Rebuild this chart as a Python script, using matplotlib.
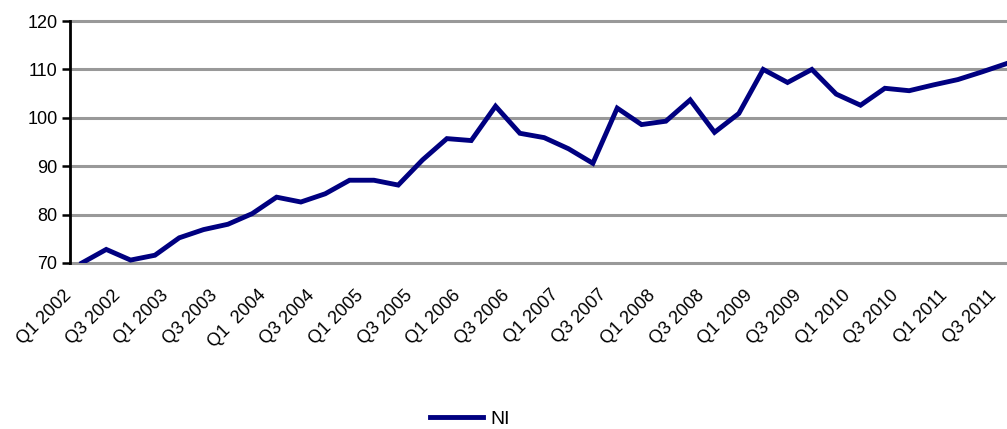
import numpy as np
import matplotlib.pyplot as plt
from matplotlib.transforms import ScaledTranslation

plt.rcParams['font.family'] = ['Liberation Sans', 'DejaVu Sans']

quarters = ['Q1 2002', 'Q2 2002', 'Q3 2002', 'Q4 2002',
            'Q1 2003', 'Q2 2003', 'Q3 2003', 'Q4 2003',
            'Q1  2004', 'Q2 2004', 'Q3 2004', 'Q4 2004',
            'Q1 2005', 'Q2 2005', 'Q3 2005', 'Q4 2005',
            'Q1 2006', 'Q2 2006', 'Q3 2006', 'Q4 2006',
            'Q1 2007', 'Q2 2007', 'Q3 2007', 'Q4 2007',
            'Q1 2008', 'Q2 2008', 'Q3 2008', 'Q4 2008',
            'Q1 2009', 'Q2 2009', 'Q3 2009', 'Q4 2009',
            'Q1 2010', 'Q2 2010', 'Q3 2010', 'Q4 2010',
            'Q1 2011', 'Q2 2011', 'Q3 2011']
ni = [70.0, 72.8, 70.6, 71.6, 75.2, 76.9, 78.0, 80.2,
      83.6, 82.6, 84.3, 87.1, 87.1, 86.1, 91.3, 95.7,
      95.3, 102.4, 96.8, 95.9, 93.6, 90.6, 102.0, 98.6,
      99.3, 103.7, 97.0, 100.9, 110.0, 107.3, 110.0, 104.9,
      102.6, 106.1, 105.6, 106.8, 107.9, 109.5, 111.2]

x = np.arange(len(ni))

fig = plt.figure(figsize=(10.07, 4.29), dpi=100)
ax = fig.add_axes([0.0695, 0.387, 0.9305, 0.564])

ax.plot(x, ni, color='#000080', linewidth=3.5, label='NI',
        solid_joinstyle='miter', zorder=3)

ax.set_ylim(70, 120)
ax.set_yticks(np.arange(70, 121, 10))
ax.set_xlim(-0.49, 38.02)
ax.set_xticks(x[::2])
ax.set_xticklabels(quarters[::2], rotation=45, ha='right', va='top',
                   rotation_mode='anchor', fontsize=13)
ax.tick_params(axis='x', length=0, pad=17)
ax.tick_params(axis='y', direction='out', length=6, width=1.8,
               labelsize=13, pad=3)

# shift the slanted labels left, as in the original
shift = ScaledTranslation(-19 / 100, 0, fig.dpi_scale_trans)
for lab in ax.get_xticklabels():
    lab.set_transform(lab.get_transform() + shift)

ax.grid(axis='y', color='#999999', linewidth=2.2, zorder=1)
ax.set_axisbelow(True)
for gl in ax.get_ygridlines():
    gl.set_clip_on(False)
for s in ['top', 'right', 'bottom']:
    ax.spines[s].set_visible(False)
ax.spines['left'].set_linewidth(2)
ax.spines['left'].set_zorder(4)

fig.legend(loc='center left', bbox_to_anchor=(430 / 1007, 1 - 419 / 429),
           frameon=False, fontsize=14, handlelength=2.7, handletextpad=0.4,
           borderpad=0, borderaxespad=0)

fig.savefig('out.png', dpi=100)
